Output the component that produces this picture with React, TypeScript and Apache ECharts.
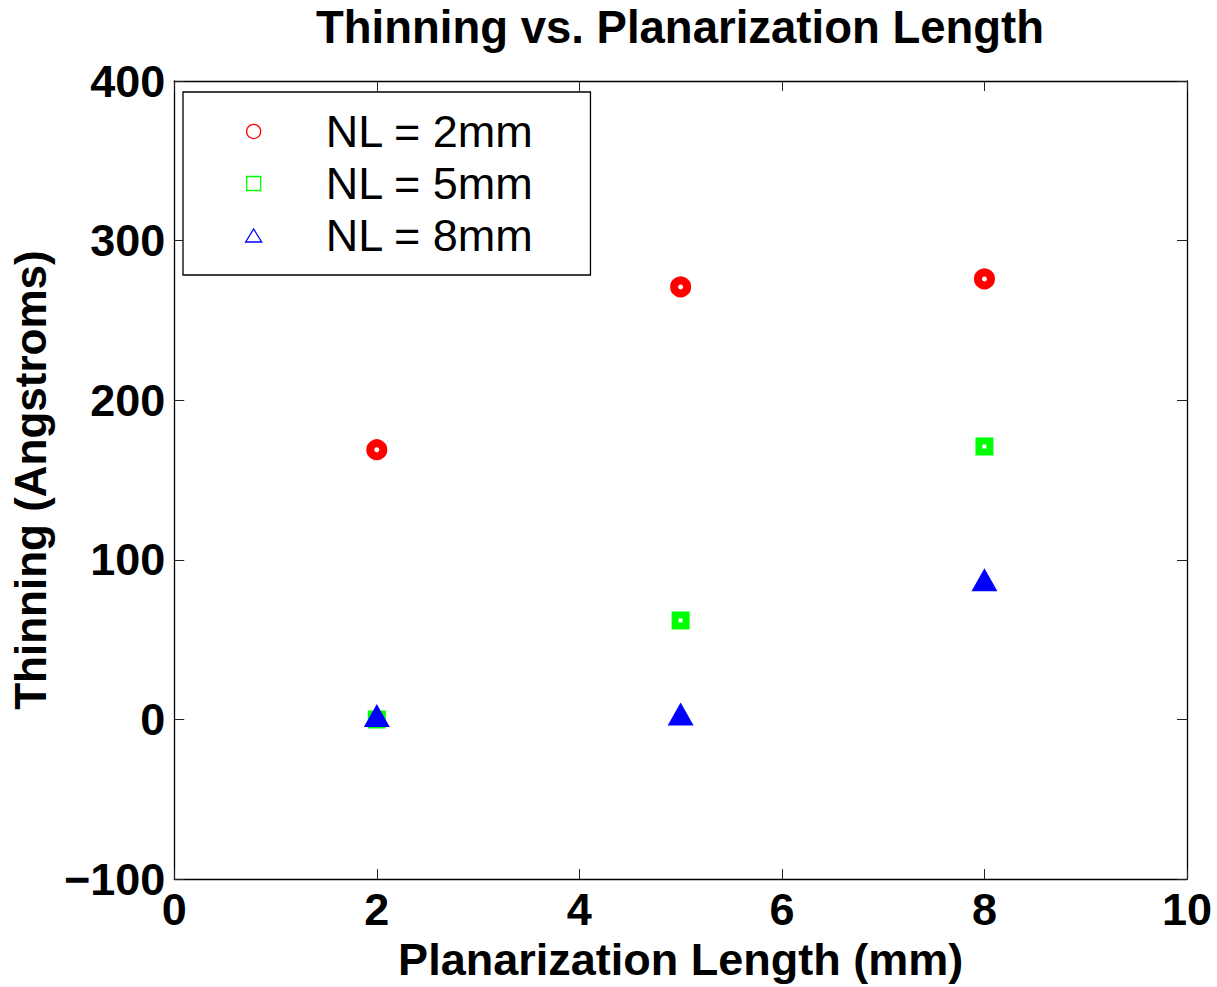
import React, { useEffect, useRef } from "react";
import * as echarts from "echarts";

const planarizationLengths = [2, 5, 8];
const nl2mm = [169, 271, 276];
const nl5mm = [0, 62, 171];
const nl8mm = [0, 1, 85];
const seriesNames = ["NL = 2mm", "NL = 5mm", "NL = 8mm"];
const xTicks = { min: 0, max: 10, interval: 2 };
const yTicks = { min: -100, max: 400, interval: 100 };

const FONT = "'Liberation Sans', Arial, Helvetica, sans-serif";

export default function App() {
  const ref = useRef<HTMLDivElement>(null);
  useEffect(() => {
    if (!ref.current) return;
    const chart = echarts.init(ref.current, null, { renderer: "svg" });
    const pairs = (ys: number[]) => planarizationLengths.map((x, i) => [x, ys[i]]);
    const tickCommon = { show: true, inside: true, length: 10, lineStyle: { color: "#222", width: 1 } };
    const lineCommon = { show: true, onZero: false, lineStyle: { color: "#000", width: 1.3 } };
    const labelStyle = { fontFamily: FONT, fontSize: 45, fontWeight: "bold" as const, color: "#000", lineHeight: 45 };
    chart.setOption({
      animation: false,
      backgroundColor: "#fff",
      textStyle: { fontFamily: FONT },
      title: {
        text: "Thinning vs. Planarization Length",
        left: 680,
        top: 5,
        padding: 0,
        textAlign: "center",
        textStyle: { fontFamily: FONT, fontSize: 45.5, fontWeight: "bold", color: "#000", lineHeight: 45 },
      },
      grid: { left: 172, top: 81, width: 1015, height: 801, containLabel: false },
      legend: {
        orient: "vertical",
        left: 183,
        top: 92,
        padding: [17, 56, 17, 62],
        itemWidth: 16,
        itemHeight: 14,
        itemGap: 7,
        symbolKeepAspect: true,
        borderColor: "#000",
        borderWidth: 1.3,
        backgroundColor: "#fff",
        selectedMode: false,
        textStyle: { fontFamily: FONT, fontSize: 45, color: "#000", lineHeight: 45, padding: [0, 0, 0, 59] },
        data: [
          { name: seriesNames[0], icon: "circle", itemStyle: { color: "#fff", borderColor: "#ff0000", borderWidth: 1.3 } },
          {
            name: seriesNames[1],
            icon: "path://M0,0L10,0L10,10L0,10Z",
            itemStyle: { color: "#fff", borderColor: "#00ff00", borderWidth: 1.3 },
          },
          {
            name: seriesNames[2],
            icon: "path://M8,0L16,13L0,13Z",
            itemStyle: { color: "#fff", borderColor: "#0000ff", borderWidth: 1.3 },
          },
        ],
      },
      xAxis: [
        {
          type: "value",
          position: "bottom",
          ...xTicks,
          name: "Planarization Length (mm)",
          nameLocation: "middle",
          nameGap: 34,
          nameTextStyle: labelStyle,
          axisLine: lineCommon,
          axisTick: tickCommon,
          axisLabel: { ...labelStyle, margin: 8 },
          splitLine: { show: false },
        },
        {
          type: "value",
          position: "top",
          ...xTicks,
          axisLine: lineCommon,
          axisTick: tickCommon,
          axisLabel: { show: false },
          splitLine: { show: false },
        },
      ],
      yAxis: [
        {
          type: "value",
          position: "left",
          ...yTicks,
          name: "Thinning (Angstroms)",
          nameLocation: "middle",
          nameGap: 104,
          nameRotate: 90,
          nameTextStyle: { ...labelStyle, fontSize: 44 },
          axisLine: lineCommon,
          axisTick: tickCommon,
          axisLabel: {
            ...labelStyle,
            margin: 9,
            formatter: (v: number) => (v < 0 ? "\u2212" + Math.abs(v) : String(v)),
          },
          splitLine: { show: false },
        },
        {
          type: "value",
          position: "right",
          ...yTicks,
          axisLine: lineCommon,
          axisTick: tickCommon,
          axisLabel: { show: false },
          splitLine: { show: false },
        },
      ],
      series: [
        {
          name: seriesNames[0],
          type: "scatter",
          data: pairs(nl2mm),
          symbol: "circle",
          symbolSize: 13,
          itemStyle: { color: "#fff", borderColor: "#ff0000", borderWidth: 8, opacity: 1 },
        },
        {
          name: seriesNames[1],
          type: "scatter",
          data: pairs(nl5mm),
          symbol: "rect",
          symbolSize: 11,
          itemStyle: { color: "#fff", borderColor: "#00ff00", borderWidth: 7, opacity: 1 },
        },
        {
          name: seriesNames[2],
          type: "scatter",
          data: pairs(nl8mm),
          symbol: "triangle",
          symbolSize: [26, 23],
          symbolOffset: [0, -4],
          itemStyle: { color: "#0000ff", borderColor: "#0000ff", borderWidth: 0, opacity: 1 },
        },
      ],
    });
    return () => chart.dispose();
  }, []);
  return (
    <div
      ref={ref}
      style={{ position: "absolute", left: 0, top: 0, width: 1217, height: 987, background: "#fff" }}
    />
  );
}
